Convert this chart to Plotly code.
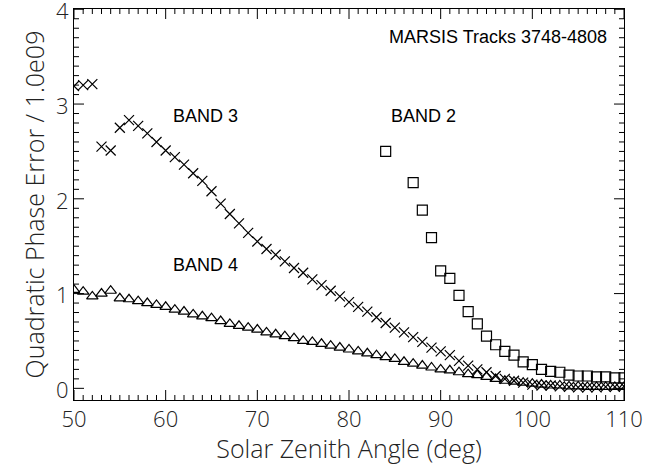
import plotly.graph_objects as go

# Band 3 (crosses)
b3_x = list(range(50, 111))
b3_y = [3.19, 3.20, 3.21, 2.55, 2.51, 2.75, 2.83, 2.77, 2.69, 2.60,
        2.51, 2.44, 2.36, 2.27, 2.19, 2.08, 1.95, 1.84, 1.74, 1.64,
        1.55, 1.47, 1.41, 1.34, 1.27, 1.22, 1.15, 1.09, 1.03, 0.97,
        0.91, 0.86, 0.81, 0.75, 0.69, 0.64, 0.59, 0.54, 0.49, 0.43,
        0.39, 0.35, 0.29, 0.24, 0.20, 0.17, 0.13, 0.10, 0.08, 0.06,
        0.04, 0.03, 0.03, 0.02, 0.015, 0.01, 0.01, 0.01, 0.015, 0.015, 0.02]

# Band 4 (triangles)
b4_x = list(range(50, 111))
b4_y = [1.04, 1.02, 0.97, 1.00, 1.03, 0.95, 0.94, 0.92, 0.90, 0.88,
        0.86, 0.83, 0.81, 0.78, 0.76, 0.74, 0.71, 0.68, 0.66, 0.64,
        0.62, 0.59, 0.57, 0.55, 0.53, 0.50, 0.49, 0.47, 0.45, 0.43,
        0.41, 0.39, 0.37, 0.35, 0.33, 0.31, 0.28, 0.26, 0.24, 0.22,
        0.20, 0.19, 0.17, 0.15, 0.14, 0.12, 0.10, 0.08, 0.07, 0.06,
        0.05, 0.04, 0.03, 0.03, 0.02, 0.02, 0.015, 0.015, 0.015, 0.015, 0.015]

# Band 2 (squares)
b2_x = [84, 87, 88, 89, 90, 91, 92, 93, 94, 95, 96, 97, 98, 99, 100,
        101, 102, 103, 104, 105, 106, 107, 108, 109, 110]
b2_y = [2.50, 2.17, 1.88, 1.59, 1.24, 1.16, 0.98, 0.81, 0.68, 0.55, 0.46,
        0.39, 0.35, 0.28, 0.25, 0.20, 0.18, 0.17, 0.14, 0.13, 0.13, 0.12,
        0.12, 0.11, 0.11]

labels = ["BAND 3", "BAND 2", "BAND 4"]
label_x = [64.3, 88.1, 64.3]
label_y = [2.87, 2.87, 1.30]
title_text = "MARSIS Tracks 3748-4808"

x_range = [50, 110]
y_range = [-0.123, 4.003]
x_major = [50, 60, 70, 80, 90, 100, 110]
y_major = [0, 1, 2, 3, 4]

W, H = 645, 465
margin = dict(l=74, r=21, t=9, b=65)

fig = go.Figure()

# inside tick marks on all four sides (axis furniture), built from the tick lists
px_x = (x_range[1] - x_range[0]) / (W - margin["l"] - margin["r"])
px_y = (y_range[1] - y_range[0]) / (H - margin["t"] - margin["b"])
tx, ty = [], []
for v in range(x_range[0], x_range[1] + 1):
    ln = (10 if v in x_major else 5) * px_y
    tx += [v, v, None, v, v, None]
    ty += [y_range[0], y_range[0] + ln, None, y_range[1], y_range[1] - ln, None]
for i in range(41):
    v = round(0.1 * i, 1)
    ln = (10 if v in y_major else 5) * px_x
    tx += [x_range[0], x_range[0] + ln, None, x_range[1], x_range[1] - ln, None]
    ty += [v, v, None, v, v, None]
fig.add_trace(go.Scatter(x=tx, y=ty, mode="lines", line=dict(color="black", width=1),
                         hoverinfo="skip", connectgaps=False))

mk = dict(color="black", size=10, line=dict(color="black", width=1.2))
fig.add_trace(go.Scatter(x=b3_x, y=b3_y, mode="markers",
                         marker=dict(symbol="x-thin-open", **mk)))
fig.add_trace(go.Scatter(x=b4_x, y=b4_y, mode="markers",
                         marker=dict(symbol="triangle-up-open", **mk)))
fig.add_trace(go.Scatter(x=b2_x, y=b2_y, mode="markers",
                         marker=dict(symbol="square-open", **mk)))

annfont = dict(family="Liberation Sans, Arial", size=18, color="black")
for t, x, y in zip(labels, label_x, label_y):
    fig.add_annotation(x=x, y=y, text=t, showarrow=False, font=annfont)
fig.add_annotation(x=108.4, y=3.71, text=title_text, showarrow=False, xanchor="right",
                   font=annfont)

tickfont = dict(family="Open Sans, DejaVu Sans", size=22, color="#222", weight=300)
titlefont = dict(family="Open Sans, DejaVu Sans", size=25, color="#222", weight=300)
common = dict(showline=True, linecolor="black", linewidth=1, mirror=True,
              ticks="", showgrid=False, zeroline=False, automargin=False,
              ticklabeloverflow="allow", tickfont=tickfont)

fig.update_layout(
    xaxis=dict(range=x_range, tickvals=x_major,
               title=dict(text="Solar Zenith Angle (deg)", font=titlefont, standoff=6),
               **common),
    yaxis=dict(range=y_range, tickvals=y_major, ticksuffix="  ", ticklabelshift=2,
               title=dict(text="Quadratic Phase Error / 1.0e09", font=titlefont, standoff=4),
               **common),
    width=W, height=H, showlegend=False,
    plot_bgcolor="white", paper_bgcolor="white",
    margin=margin,
)
fig.write_html("out.html")
